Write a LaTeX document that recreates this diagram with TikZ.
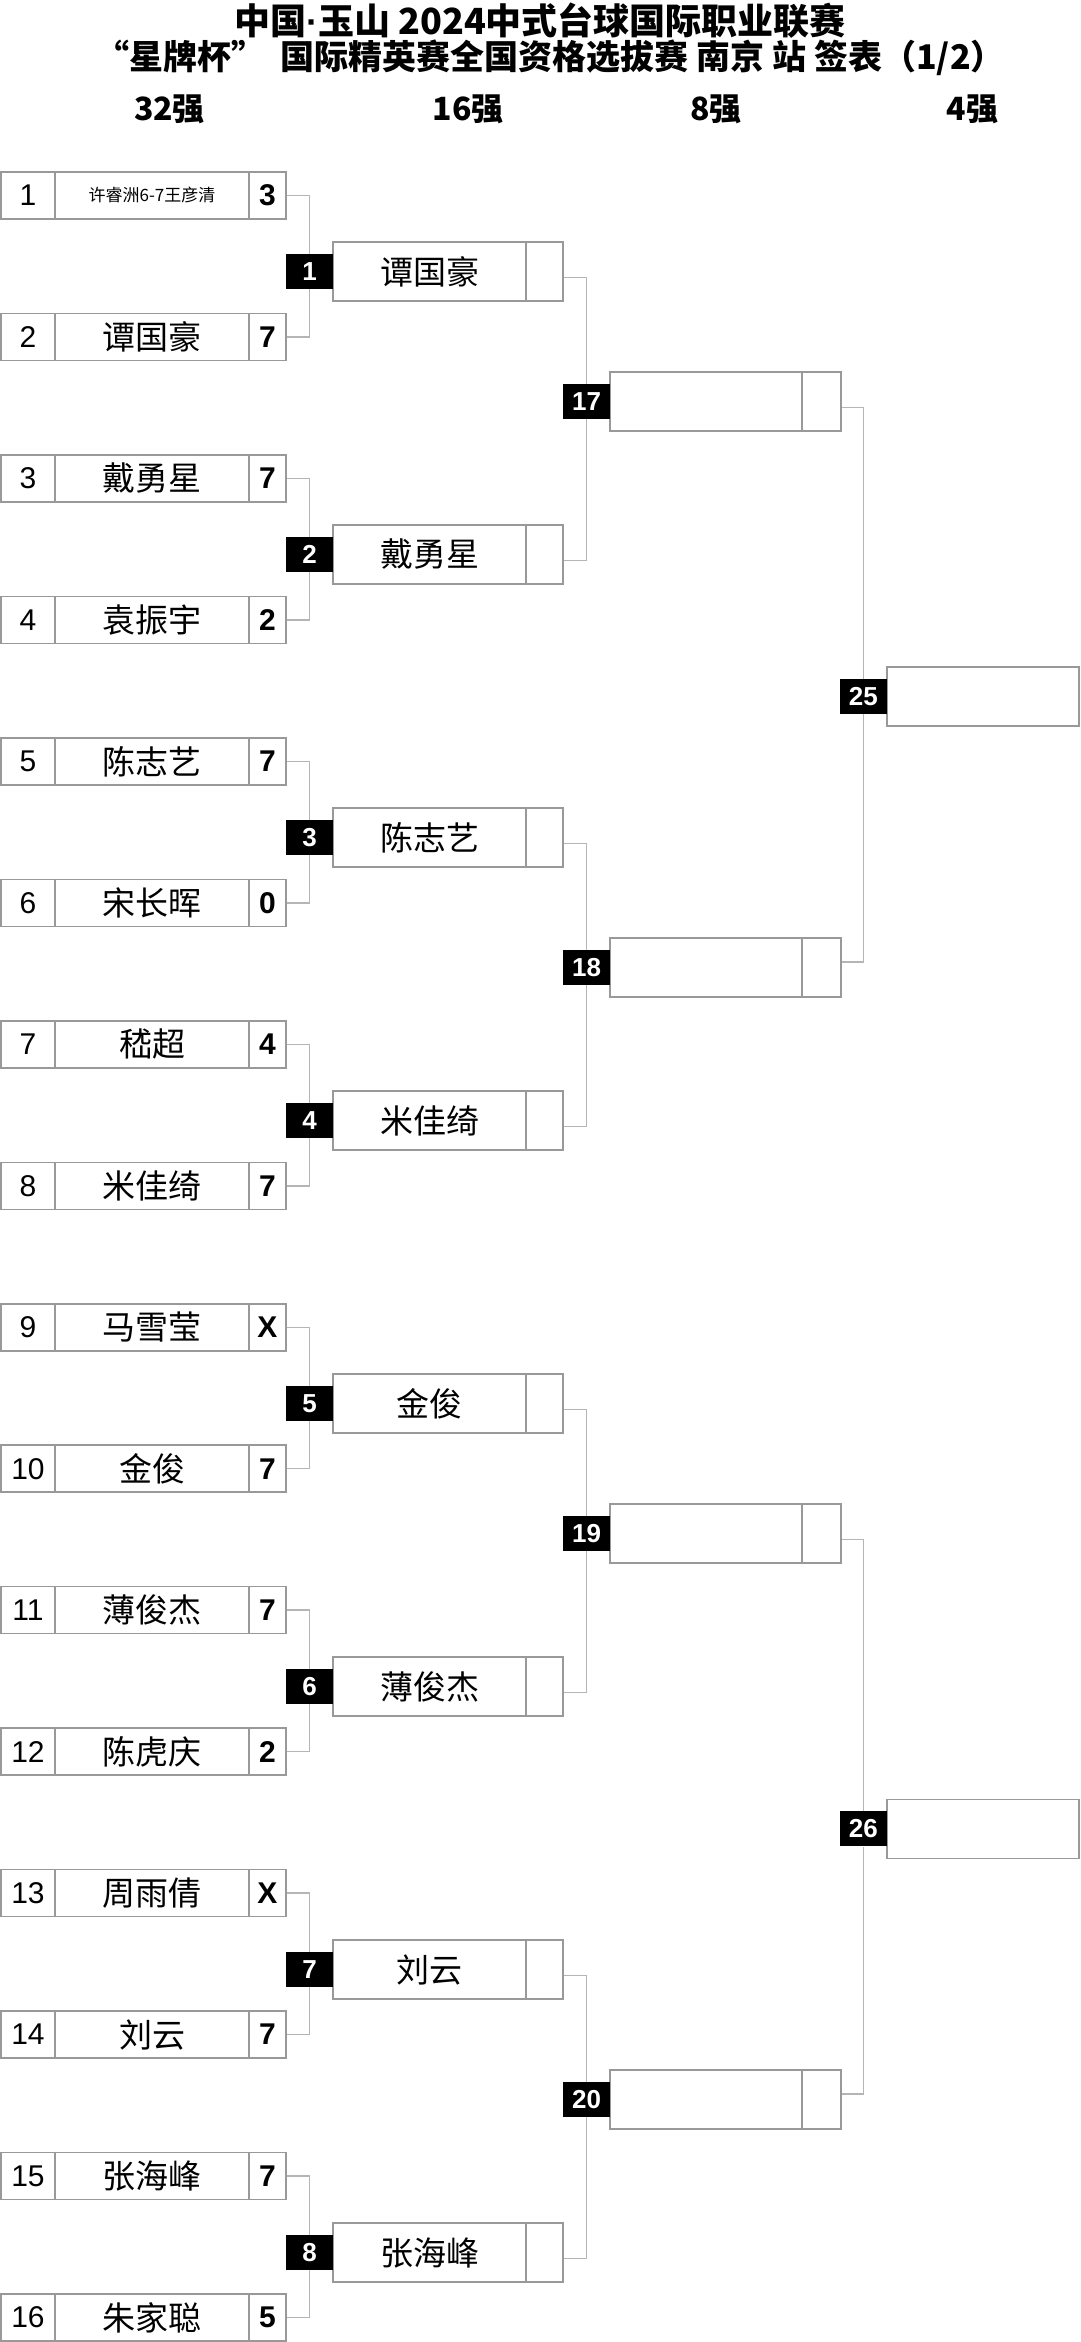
\documentclass[tikz,border=0pt]{standalone}
\usepackage{fontspec}
\setmainfont{Liberation Sans}
\newfontfamily\cjk{Noto Sans CJK SC}
\definecolor{boxgray}{HTML}{999999}
\definecolor{linegray}{HTML}{B5B5B5}
\tikzset{
  cellbase/.style={draw=boxgray, line width=1.5pt, inner sep=0pt, fill=white},
  seedcell/.style={cellbase, minimum width=54pt, minimum height=47pt, font=\fontsize{30}{30}\selectfont},
  namecell/.style={cellbase, minimum width=194pt, minimum height=47pt, font=\cjk\fontsize{33}{33}\selectfont},
  scorecell/.style={cellbase, minimum width=37pt, minimum height=47pt, font=\bfseries\fontsize{30}{30}\selectfont},
  wname/.style={cellbase, minimum width=193pt, minimum height=59pt, font=\cjk\fontsize{33}{33}\selectfont},
  wscore/.style={cellbase, minimum width=37pt, minimum height=59pt},
  matchlbl/.style={fill=black, text=white, minimum width=47pt, minimum height=35pt, inner sep=0pt, font=\bfseries\fontsize{26}{26}\selectfont},
  conn/.style={draw=linegray, line width=1.5pt},
  titletext/.style={font=\cjk\bfseries\fontsize{36}{36}\selectfont, inner sep=0pt},
  roundhdr/.style={font=\cjk\bfseries\fontsize{32}{32}\selectfont, inner sep=0pt},
}
\begin{document}
\begin{tikzpicture}[x=1pt,y=-1pt]
\useasboundingbox[fill=white] (0,0) rectangle (1080,2342);
% titles
\node[titletext] (t1) at (540,21) {中国{\rmfamily·}玉山 2024中式台球国际职业联赛};
\node[titletext, font=\cjk\bfseries\fontsize{34}{34}\selectfont] (t2) at (550,58) {“星牌杯”\ \ 国际精英赛全国资格选拔赛 南京 站 签表（1/2）};
\node[roundhdr] (h32) at (169.5,109) {32强};
\node[roundhdr] (h16) at (468,109) {16强};
\node[roundhdr] (h8) at (716,109) {8强};
\node[roundhdr] (h4) at (972.5,109) {4强};
% round of 32
\foreach \i/\nm/\sc in {1/{\fontsize{17}{17}\selectfont 许睿洲6-7王彦清}/3, 2/谭国豪/7, 3/戴勇星/7, 4/袁振宇/2, 5/陈志艺/7, 6/宋长晖/0, 7/嵇超/4, 8/米佳绮/7, 9/马雪莹/X, 10/金俊/7, 11/薄俊杰/7, 12/陈虎庆/2, 13/周雨倩/X, 14/刘云/7, 15/张海峰/7, 16/朱家聪/5}{
  \pgfmathsetmacro{\yc}{195.5+(\i-1)*141.47}
  \node[seedcell] (s\i) at (28,\yc) {\i};
  \node[namecell] (n\i) at (152,\yc) {\nm};
  \node[scorecell] (c\i) at (267.5,\yc) {\sc};
}
% round of 16
\foreach \k/\nm in {1/谭国豪, 2/戴勇星, 3/陈志艺, 4/米佳绮, 5/金俊, 6/薄俊杰, 7/刘云, 8/张海峰}{
  \pgfmathsetmacro{\yc}{271.5+(\k-1)*283}
  \node[wname] (p\k) at (429.5,\yc) {\nm};
  \node[wscore] (q\k) at (544.5,\yc) {};
  \node[matchlbl] (L\k) at (309.5,\yc) {\k};
  \pgfmathtruncatemacro{\a}{2*\k-1}
  \pgfmathtruncatemacro{\b}{2*\k}
  \draw[conn] (c\a.east) -| (L\k.north);
  \draw[conn] (c\b.east) -| (L\k.south);
}
% quarter finals
\foreach \j/\m in {1/17, 2/18, 3/19, 4/20}{
  \pgfmathsetmacro{\yc}{401.5+(\j-1)*566}
  \node[wname, minimum width=192pt] (u\m) at (706,\yc) {};
  \node[wscore, minimum width=39pt] (v\m) at (821.5,\yc) {};
  \node[matchlbl] (L\m) at (586.5,\yc) {\m};
  \pgfmathtruncatemacro{\a}{2*\j-1}
  \pgfmathtruncatemacro{\b}{2*\j}
  \draw[conn] ([yshift=-6pt]q\a.east) -| (L\m.north);
  \draw[conn] ([yshift=-6pt]q\b.east) -| (L\m.south);
}
% semi finals
\foreach \m/\yc/\ya/\yb in {25/696.4/17/18, 26/1828.8/19/20}{
  \node[wname, minimum width=192pt] (w\m) at (983,\yc) {};
  \node[matchlbl] (L\m) at (863.3,\yc) {\m};
  \draw[conn] ([yshift=-6pt]v\ya.east) -| (L\m.north);
  \draw[conn] ([yshift=5.5pt]v\yb.east) -| (L\m.south);
}
\end{tikzpicture}
\end{document}
